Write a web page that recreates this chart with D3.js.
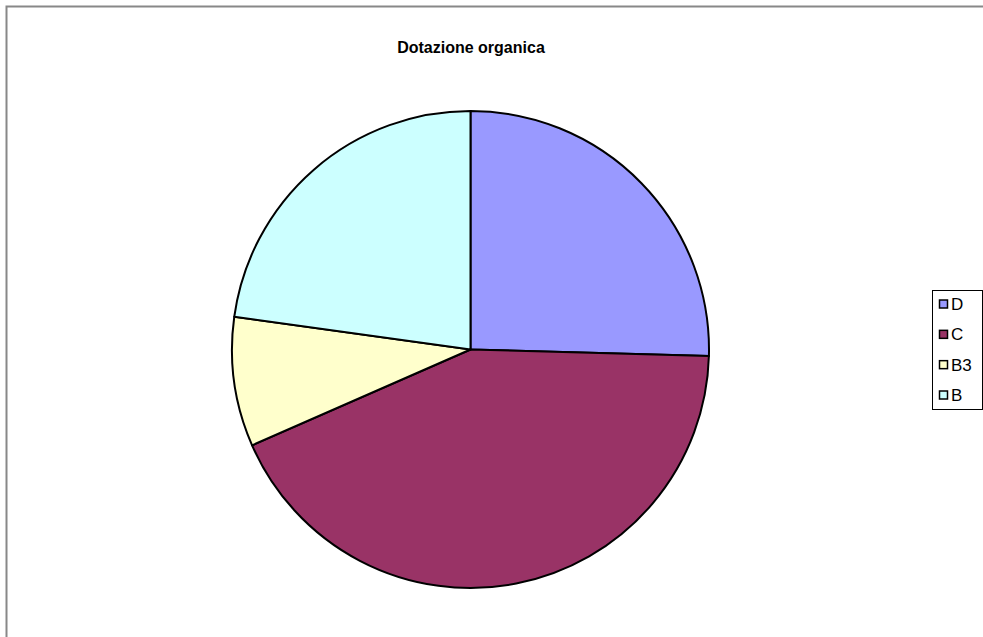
<!DOCTYPE html>
<html><head><meta charset="utf-8">
<script src="https://cdn.jsdelivr.net/npm/d3@7"></script>
<style>html,body{margin:0;padding:0;background:#fff;overflow:hidden}svg{display:block}</style>
</head><body>
<svg id="c" width="983" height="637"></svg>
<script>
const categories = ["D", "C", "B3", "B"];
const values = [29, 49, 10, 26];
const colors = ["#9999FF", "#993366", "#FFFFCC", "#CCFFFF"];
const title = "Dotazione organica";

const svg = d3.select("#c");
svg.append("path").attr("d", "M6.5,637 L6.5,6.5 L983,6.5").attr("fill", "none").attr("stroke", "#888").attr("stroke-width", 2);

svg.append("text").attr("x", 471).attr("y", 53).attr("text-anchor", "middle")
  .attr("font-family", "Arial, 'Liberation Sans', sans-serif").attr("font-weight", "bold").attr("font-size", 16)
  .text(title);

const cx = 470.5, cy = 349.5, r = 238.5;
const pie = d3.pie().sort(null).value(d => d);
const arc = d3.arc().innerRadius(0).outerRadius(r);
const g = svg.append("g").attr("transform", `translate(${cx},${cy})`);
g.selectAll("path").data(pie(values)).join("path")
  .attr("d", arc).attr("fill", (d, i) => colors[i])
  .attr("stroke", "#000").attr("stroke-width", 2).attr("stroke-linejoin", "round");

const lg = svg.append("g");
lg.append("rect").attr("x", 932.5).attr("y", 290.5).attr("width", 50).attr("height", 119)
  .attr("fill", "#fff").attr("stroke", "#000").attr("stroke-width", 1);
const y = d3.scalePoint().domain(categories).range([304, 395]);
categories.forEach((c, i) => {
  lg.append("rect").attr("x", 939.5).attr("y", y(c) - 4).attr("width", 8).attr("height", 8)
    .attr("fill", colors[i]).attr("stroke", "#000").attr("stroke-width", 1.5);
  lg.append("text").attr("x", 951).attr("y", y(c) + 6)
    .attr("font-family", "Arial, 'Liberation Sans', sans-serif").attr("font-size", 17).text(c);
});
</script>
</body></html>
